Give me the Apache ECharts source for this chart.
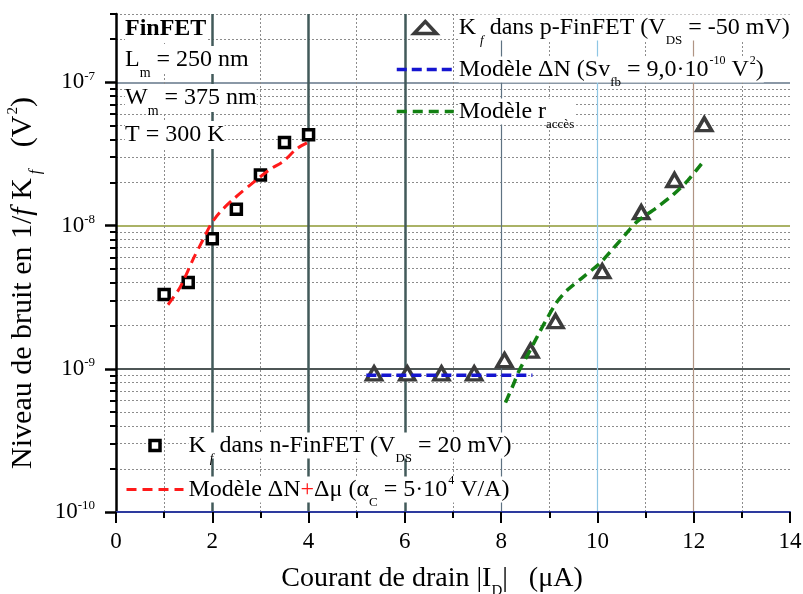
<!DOCTYPE html>
<html><head><meta charset="utf-8">
<script src="https://cdn.jsdelivr.net/npm/echarts@6/dist/echarts.min.js"></script>
<style>html,body{margin:0;padding:0;background:#fff}#c{width:803px;height:594px}</style>
</head><body><div id="c"></div>
<script>
// ---------------- data ----------------
const xMin = 0, xMax = 14, xStep = 2;
const yMin = 1e-10, yMax = 3e-7;
const yMajorTicks = [1e-10, 1e-9, 1e-8, 1e-7];
const yMantissas = [2, 3, 4, 5, 6, 7, 8, 9];
const yDecades = [-10, -9, -8, -7];

// n-FinFET Kf (squares)
const nX = [1.0, 1.5, 2.0, 2.5, 3.0, 3.5, 4.0];
const nY = [3.3e-9, 4.0e-9, 8.1e-9, 1.3e-8, 2.25e-8, 3.8e-8, 4.3e-8];
// Model dN+dmu (red dashed)
const nModelX = [1.08, 1.33, 1.6, 1.81, 1.97, 2.15, 2.43, 2.93, 3.2, 3.47, 3.76, 4.03];
const nModelY = [2.8e-9, 3.7e-9, 5.8e-9, 8.0e-9, 1.02e-8, 1.23e-8, 1.52e-8, 2.1e-8, 2.47e-8, 2.8e-8, 3.45e-8, 3.87e-8];
// p-FinFET Kf (triangles)
const pX = [5.36, 6.05, 6.76, 7.44, 8.07, 8.61, 9.13, 10.1, 10.91, 11.6, 12.22];
const pY = [9.3e-10, 9.3e-10, 9.3e-10, 9.3e-10, 1.15e-9, 1.34e-9, 2.15e-9, 4.8e-9, 1.24e-8, 2.08e-8, 5.1e-8];
// Model dN (blue dashed)
const dnX = [5.2, 8.65];
const dnY = [9.0e-10, 9.0e-10];
// Model r_acces (green dashed)
const raX = [8.09, 8.25, 8.36, 8.61, 8.77, 8.92, 9.15, 9.38, 9.69, 10.06, 10.31, 10.58, 10.83, 11.21, 11.58, 11.87, 12.2];
const raY = [5.8e-10, 7.7e-10, 9.5e-10, 1.36e-9, 1.73e-9, 2.14e-9, 2.9e-9, 3.56e-9, 4.33e-9, 5.5e-9, 6.8e-9, 8.65e-9, 1.07e-8, 1.32e-8, 1.65e-8, 2.05e-8, 2.8e-8];

const annotRows = [
  '{bold|FinFET}',
  '{t|L}{sub|m}{t| = 250 nm}',
  '{t|W}{sub|m}{t| = 375 nm}',
  '{t|T = 300 K}'
];
const legendTexts = {
  pK: '{t|K}{subi|f}{t| dans p-FinFET (V}{sub|DS}{t| = -50 mV)}',
  dN: '{t|Modèle ΔN (Sv}{sub|fb}{t| = 9,0·10}{sup|-10}{t| V}{sup|2}{t|)}',
  rA: '{t|Modèle r}{sub|accès}',
  nK: '{t|K}{subi|f}{t| dans n-FinFET (V}{sub|DS}{t| = 20 mV)}',
  dNmu: '{t|Modèle ΔN}{red|+}{t|Δμ (α}{sub|C}{t| = 5·10}{sup|4}{t| V/A)}'
};
const xTitle = '{t|Courant de drain |I}{sub|D}{t||   (μA)}';
const yTitle = '{t|Niveau de bruit en 1/}{it|f}{t| K}{subi|f}{t|   (V}{sup|2}{t|)}';

// ---------------- helpers ----------------
const FONT = "'Liberation Serif','Times New Roman',serif";
const zip = (a, b) => a.map((v, i) => [v, b[i]]);
const yMinorTicks = [];
yDecades.forEach(d => yMantissas.forEach(m => {
  const v = Number((m * Math.pow(10, d)).toPrecision(6));
  if (v <= yMax * 1.0000001) yMinorTicks.push(v);
}));

function richSet(size, lh, subSize, shiftSub, shiftSup) {
  return {
    t: {fontSize: size, fontFamily: FONT, lineHeight: lh, color: '#000', fill: '#000'},
    bold: {fontSize: size, fontFamily: FONT, fontWeight: 'bold', lineHeight: lh, color: '#000', fill: '#000'},
    it: {fontSize: size, fontFamily: FONT, fontStyle: 'italic', lineHeight: lh, color: '#000', fill: '#000'},
    red: {fontSize: size, fontFamily: FONT, lineHeight: lh, color: '#ff1a1a', fill: '#ff1a1a'},
    sub: {fontSize: subSize, fontFamily: FONT, lineHeight: lh, padding: [2 * shiftSub, 0, 0, 0], color: '#000', fill: '#000'},
    subi: {fontSize: subSize, fontFamily: FONT, fontStyle: 'italic', lineHeight: lh, padding: [2 * shiftSub, 0, 0, 4], color: '#000', fill: '#000'},
    sup: {fontSize: subSize - 1, fontFamily: FONT, lineHeight: lh, padding: [0, 0, 2 * shiftSup, 1], color: '#000', fill: '#000'}
  };
}
const LEG_RICH = richSet(24, 26, 13, 13, 9);
const ANN_RICH = richSet(24, 28, 14, 13, 9);
const XT_RICH = richSet(28, 30, 15, 13, 9);
const YT_RICH = richSet(30, 32, 16, 13, 10);

const legendBase = {
  orient: 'vertical', padding: 0, itemWidth: 57, itemHeight: 14,
  selectedMode: false, symbolKeepAspect: true,
  formatter: n => legendTexts[n],
  textStyle: {backgroundColor: '#fff', color: '#000', fontFamily: FONT, fontSize: 24, rich: LEG_RICH}
};

const chart = echarts.init(document.getElementById('c'), null, {renderer: 'canvas'});
chart.setOption({
  backgroundColor: '#fff',
  animation: false,
  grid: {left: 116, right: 13, top: 14, bottom: 82, containLabel: false, outerBoundsMode: 'none'},
  xAxis: [{
    type: 'value', min: xMin, max: xMax, interval: xStep, position: 'bottom',
    name: xTitle, nameLocation: 'middle', nameGap: 46,
    nameTextStyle: {rich: XT_RICH, fontFamily: FONT, fontSize: 28, color: '#000', padding: [0, 42, 0, 0]},
    axisLine: {show: true, onZero: false, lineStyle: {color: '#2d3a9e', width: 2}},
    axisTick: {show: true, length: 11, lineStyle: {color: '#000', width: 2}},
    minorTick: {show: true, splitNumber: 2, length: 6, lineStyle: {color: '#000', width: 2}},
    axisLabel: {fontFamily: FONT, fontSize: 23, color: '#000', margin: 18},
    splitLine: {show: true, lineStyle: {width: 2.5, color: ['rgba(0,0,0,0)', '#425a5a', '#425a5a', '#425a5a', 'rgba(0,0,0,0)', 'rgba(0,0,0,0)', 'rgba(0,0,0,0)', 'rgba(0,0,0,0)']}},
    minorSplitLine: {show: true, lineStyle: {color: '#8c8c8c', width: 1, type: [2, 2]}}
  }, {
    type: 'value', min: xMin, max: xMax, interval: xStep, position: 'bottom', offset: 0,
    axisLine: {show: false}, axisTick: {show: false}, axisLabel: {show: false},
    splitLine: {show: true, lineStyle: {width: 1.2, color: ['rgba(0,0,0,0)', 'rgba(0,0,0,0)', 'rgba(0,0,0,0)', 'rgba(0,0,0,0)', '#5e7282', '#8ec6e4', '#b09484', 'rgba(0,0,0,0)']}}
  }],
  yAxis: [{
    type: 'log', logBase: 10, min: yMin, max: yMax, position: 'left',
    name: yTitle, nameLocation: 'middle', nameRotate: 90, nameGap: 69,
    nameTextStyle: {rich: YT_RICH, fontFamily: FONT, fontSize: 30, color: '#000', padding: [0, 40, 0, 0]},
    axisLine: {show: true, onZero: false, lineStyle: {color: '#000', width: 2.5}},
    axisTick: {show: true, length: 11, customValues: yMajorTicks, lineStyle: {color: '#000', width: 2.5}},
    axisLabel: {
      customValues: yMajorTicks, margin: 21,
      formatter: v => '{b|10}{s|' + Math.round(Math.log10(v)) + '}',
      rich: {
        b: {fontFamily: FONT, fontSize: 23, color: '#000', lineHeight: 24},
        s: {fontFamily: FONT, fontSize: 13, color: '#000', lineHeight: 24, padding: [0, 0, 12, 0]}
      }
    },
    splitLine: {show: true, lineStyle: {width: 2, color: ['rgba(0,0,0,0)', '#4e5656', '#aab266', '#8a98a6']}}
  }, {
    type: 'log', logBase: 10, min: yMin, max: yMax, position: 'left', offset: 0,
    axisLine: {show: false}, axisLabel: {show: false},
    axisTick: {show: true, length: 6, customValues: yMinorTicks, lineStyle: {color: '#000', width: 2}},
    splitLine: {show: true, lineStyle: {color: '#8c8c8c', width: 1, type: [2, 2]}}
  }],
  legend: [
    Object.assign({}, legendBase, {left: 395, top: 8, itemGap: 3, itemHeight: 12, data: [
      {name: 'pK', icon: 'path://M10.75,0L21.5,11.5L0,11.5Z', itemStyle: {borderWidth: 3.5, borderColor: '#3c3c3c', color: '#fff'}},
      {name: 'dN', itemStyle: {opacity: 0}, lineStyle: {width: 3.5}},
      {name: 'rA', itemStyle: {opacity: 0}, lineStyle: {width: 3.5}}
    ]}),
    Object.assign({}, legendBase, {left: 125, top: 426, itemGap: 5, itemHeight: 10, data: [
      {name: 'nK', icon: 'path://M0,0H10V10H0Z', itemStyle: {borderWidth: 3.5, borderColor: '#000', color: '#fff'}},
      {name: 'dNmu', itemStyle: {opacity: 0}, lineStyle: {width: 3}}
    ]})
  ],
  graphic: annotRows.map((row, i) => ({
    type: 'text', x: 125, y: [29, 60, 98, 135][i], z: 50,
    style: {text: row, rich: ANN_RICH, align: 'left', verticalAlign: 'middle', backgroundColor: '#fff', fill: '#000', fontFamily: FONT, fontSize: 24}
  })),
  series: [
    {name: 'nK', type: 'scatter', data: zip(nX, nY), symbol: 'rect', symbolSize: 10, z: 3,
      itemStyle: {color: '#fff', borderColor: '#000', borderWidth: 3.5, opacity: 1}},
    {name: 'pK', type: 'scatter', data: zip(pX, pY), symbol: 'triangle', symbolSize: [15, 13], z: 3,
      itemStyle: {color: '#fff', borderColor: '#3c3c3c', borderWidth: 3.5, opacity: 1}},
    {name: 'dNmu', type: 'line', data: zip(nModelX, nModelY), symbol: 'none', smooth: 0.3, z: 4,
      lineStyle: {color: '#ff1a1a', width: 3, type: [10, 6]}, itemStyle: {color: '#ff1a1a'}},
    {name: 'dN', type: 'line', data: zip(dnX, dnY), symbol: 'none', z: 4,
      lineStyle: {color: '#1515d0', width: 3.5, type: [10, 5]}, itemStyle: {color: '#1515d0'}},
    {name: 'rA', type: 'line', data: zip(raX, raY), symbol: 'none', smooth: 0.3, z: 4,
      lineStyle: {color: '#138013', width: 3.5, type: [10, 6]}, itemStyle: {color: '#138013'}}
  ]
});
</script></body></html>
